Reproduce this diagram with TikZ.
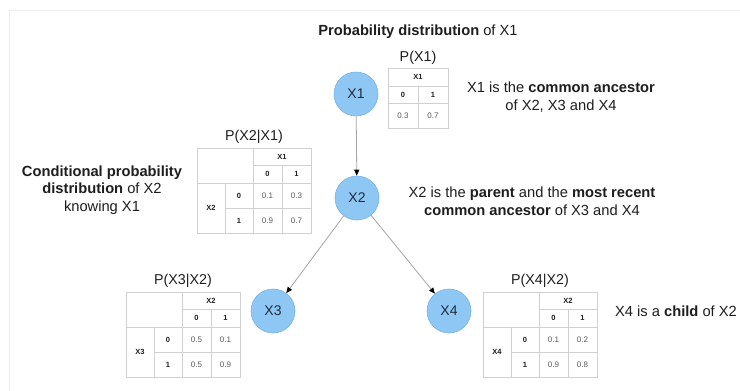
\documentclass[tikz,border=0pt]{standalone}
\usepackage{fontspec}
\setmainfont{Liberation Sans}
\usetikzlibrary{arrows.meta}
\definecolor{nodefill}{RGB}{142,199,243}
\definecolor{nodeline}{RGB}{120,178,228}
\definecolor{nodetext}{RGB}{30,45,65}
\definecolor{gridc}{RGB}{208,208,208}
\definecolor{txt}{RGB}{30,30,30}
\definecolor{valc}{RGB}{90,90,90}
\definecolor{edgec}{RGB}{165,165,165}
\definecolor{framec}{RGB}{238,238,238}
\tikzset{
  rv/.style={circle,minimum size=44pt,inner sep=0pt,fill=nodefill,draw=nodeline,line width=0.6pt,text=nodetext,font=\fontsize{14}{16}\selectfont},
  edge/.style={draw=edgec,line width=0.8pt,-{Triangle[length=6pt,width=5pt,color=black]}},
  desc/.style={align=center,text=txt,font=\fontsize{14.7}{17.5}\selectfont,inner sep=0pt},
  ttitle/.style={text=txt,font=\fontsize{14.3}{16}\selectfont,inner sep=0pt},
  hd/.style={text=txt,font=\fontsize{7.5}{8}\selectfont\bfseries,inner sep=0pt},
  val/.style={text=valc,font=\fontsize{8}{9}\selectfont,inner sep=0pt},
  grid/.style={draw=gridc,line width=0.7pt}
}
% #1,#2 position, #3 name prefix, #4 parent, #5 child, #6-#9 values
\newcommand{\condtab}[9]{%
  \begin{scope}[shift={(#1,#2)}]
    \draw[grid] (0,0) rectangle (114,85);
    \draw[grid] (56,0) -- (56,85);
    \draw[grid] (85,17) -- (85,85);
    \draw[grid] (28,35) -- (28,85);
    \draw[grid] (56,17) -- (114,17);
    \draw[grid] (0,35) -- (114,35);
    \draw[grid] (28,60) -- (114,60);
    \node[ttitle] (#3title) at (57,-11) {P(#5|#4)};
    \node[hd] (#3par) at (85,8.5) {#4};
    \node[hd] (#3pz) at (70.5,26) {0};
    \node[hd] (#3po) at (99.5,26) {1};
    \node[hd] (#3ch) at (14,60) {#5};
    \node[hd] (#3cz) at (42,47.5) {0};
    \node[hd] (#3co) at (42,72.5) {1};
    \node[val] (#3a) at (70.5,47.5) {#6};
    \node[val] (#3b) at (99.5,47.5) {#7};
    \node[val] (#3c) at (70.5,72.5) {#8};
    \node[val] (#3d) at (99.5,72.5) {#9};
  \end{scope}}
\begin{document}
\begin{tikzpicture}[x=1pt,y=-1pt]
\useasboundingbox (0,0) rectangle (740,391);
\fill[white] (0,0) rectangle (740,391);
\draw[framec,line width=1.5pt] (9.5,391) -- (9.5,10.5) -- (740,10.5);

% nodes
\node[rv] (X1) at (356,94) {X1};
\node[rv] (X2) at (357,198) {X2};
\node[rv] (X3) at (273,311) {X3};
\node[rv] (X4) at (449,311) {X4};

\draw[edge] (X1) -- (X2);
\draw[edge] (X2) -- (X3);
\draw[edge] (X2) -- (X4);

% title
\node[desc] (title) at (418,32) {\textbf{Probability distribution} of X1};

% P(X1) table
\begin{scope}[shift={(388,68)}]
  \draw[grid] (0,0) rectangle (60,60);
  \draw[grid] (0,18) -- (60,18);
  \draw[grid] (0,35) -- (60,35);
  \draw[grid] (30,18) -- (30,60);
  \node[ttitle] (p1title) at (30,-10) {P(X1)};
  \node[hd] (p1h) at (30,9) {X1};
  \node[hd] (p1z) at (15,26.5) {0};
  \node[hd] (p1o) at (45,26.5) {1};
  \node[val] (p1a) at (15,47.5) {0.3};
  \node[val] (p1b) at (45,47.5) {0.7};
\end{scope}

\condtab{197}{148}{tA}{X1}{X2}{0.1}{0.3}{0.9}{0.7}
\condtab{126}{292}{tB}{X2}{X3}{0.5}{0.1}{0.5}{0.9}
\condtab{483}{292}{tC}{X2}{X4}{0.1}{0.2}{0.9}{0.8}

% descriptions
\node[desc] (d1) at (561,97) {X1 is the \textbf{common ancestor}\\of X2, X3 and X4};
\node[desc] (d2) at (102,190) {\textbf{Conditional probability}\\\textbf{distribution} of X2\\knowing X1};
\node[desc] (d3) at (532,201) {X2 is the \textbf{parent} and the \textbf{most recent}\\\textbf{common ancestor} of X3 and X4};
\node[desc] (d4) at (676,311) {X4 is a \textbf{child} of X2};
\end{tikzpicture}
\end{document}
